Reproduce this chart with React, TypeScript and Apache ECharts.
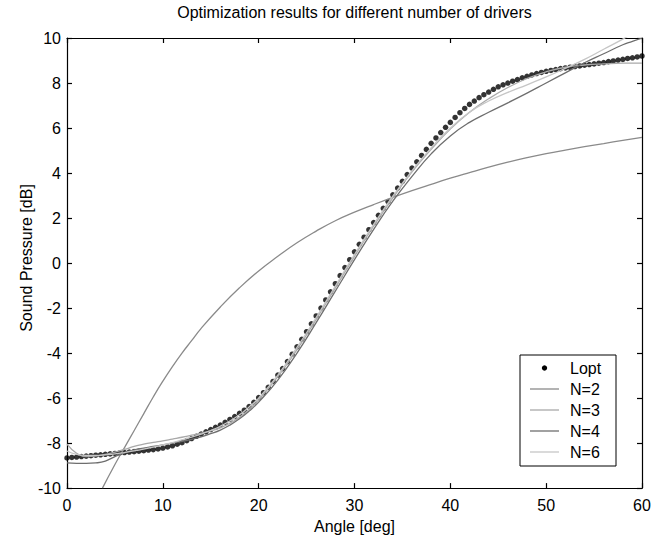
import React, { useEffect, useRef } from "react";
import * as echarts from "echarts";

const FONT = "'Liberation Sans', Arial, Helvetica, sans-serif";

const xTicks = [0, 10, 20, 30, 40, 50, 60];
const yTicks = [-10, -8, -6, -4, -2, 0, 2, 4, 6, 8, 10];

// Lopt (dots)
const loptAngle = [
  0, 0.5, 1, 1.5, 2, 2.5, 3, 3.5, 4, 4.5, 5, 5.5, 6, 6.5, 7, 7.5, 8, 8.5, 9, 9.5,
  10, 10.5, 11, 11.5, 12, 12.5, 13, 13.5, 14, 14.5, 15, 15.5, 16, 16.5, 17, 17.5, 18, 18.5, 19, 19.5,
  20, 20.5, 21, 21.5, 22, 22.5, 23, 23.5, 24, 24.5, 25, 25.5, 26, 26.5, 27, 27.5, 28, 28.5, 29, 29.5,
  30, 30.5, 31, 31.5, 32, 32.5, 33, 33.5, 34, 34.5, 35, 35.5, 36, 36.5, 37, 37.5, 38, 38.5, 39, 39.5,
  40, 40.5, 41, 41.5, 42, 42.5, 43, 43.5, 44, 44.5, 45, 45.5, 46, 46.5, 47, 47.5, 48, 48.5, 49, 49.5,
  50, 50.5, 51, 51.5, 52, 52.5, 53, 53.5, 54, 54.5, 55, 55.5, 56, 56.5, 57, 57.5, 58, 58.5, 59, 59.5, 60,
];
const loptValue = [
  -8.66, -8.64, -8.62, -8.6, -8.58, -8.56, -8.54, -8.52, -8.5, -8.48, -8.46, -8.44, -8.42, -8.4, -8.38, -8.36, -8.34, -8.31, -8.29, -8.26,
  -8.22, -8.17, -8.12, -8.05, -7.98, -7.89, -7.8, -7.7, -7.6, -7.5, -7.4, -7.3, -7.2, -7.08, -6.95, -6.82, -6.68, -6.54, -6.38, -6.19,
  -5.98, -5.76, -5.52, -5.26, -4.98, -4.69, -4.38, -4.05, -3.72, -3.39, -3.05, -2.7, -2.35, -2.0, -1.64, -1.28, -0.92, -0.56, -0.2, 0.15,
  0.5, 0.83, 1.15, 1.48, 1.8, 2.12, 2.43, 2.73, 3.03, 3.33, 3.63, 3.93, 4.22, 4.5, 4.78, 5.05, 5.32, 5.56, 5.8, 6.03,
  6.25, 6.47, 6.68, 6.87, 7.05, 7.2, 7.35, 7.48, 7.6, 7.72, 7.83, 7.92, 8.0, 8.08, 8.15, 8.23, 8.3, 8.36, 8.42, 8.47,
  8.52, 8.56, 8.6, 8.64, 8.67, 8.7, 8.73, 8.76, 8.79, 8.82, 8.85, 8.88, 8.91, 8.95, 8.98, 9.02, 9.05, 9.09, 9.12, 9.16, 9.2,
];

// N=2
const n2Angle = [3.7, 5, 6, 7, 8, 9, 10, 11, 12, 13, 14, 16, 18, 20, 22, 24, 26, 28, 30, 32, 34, 36, 38, 40, 42, 44, 46, 48, 50, 52, 54, 56, 58, 60];
const n2Value = [-10, -8.95, -8.2, -7.45, -6.7, -5.95, -5.25, -4.6, -4.0, -3.45, -2.9, -1.95, -1.1, -0.35, 0.3, 0.9, 1.42, 1.88, 2.26, 2.6, 2.92, 3.22, 3.5, 3.77, 4.02, 4.26, 4.48, 4.68, 4.86, 5.02, 5.17, 5.31, 5.45, 5.58];

// shared angles for N=3, N=4, N=6
const nAngle = [0, 1, 2, 3, 4, 5, 6, 7, 8, 9, 10, 11, 12, 13, 14, 15, 16, 17, 18, 19, 20, 22, 24, 26, 28, 30, 32, 34, 36, 38, 40, 42, 44, 46, 48, 50, 52, 54, 56, 58, 59, 60];
const n3Value = [-8.05, -8.45, -8.6, -8.58, -8.5, -8.4, -8.28, -8.15, -8.05, -7.97, -7.9, -7.82, -7.74, -7.65, -7.56, -7.46, -7.32, -7.12, -6.85, -6.5, -6.08, -5.05, -3.85, -2.5, -1.1, 0.3, 1.65, 2.9, 4.05, 5.05, 5.95, 6.7, 7.3, 7.8, 8.2, 8.5, 8.7, 8.8, 8.85, 8.88, 8.88, 8.88];
const n4Value = [-8.88, -8.9, -8.9, -8.88, -8.8, -8.6, -8.42, -8.3, -8.22, -8.15, -8.08, -8.0, -7.92, -7.83, -7.72, -7.58, -7.42, -7.2, -6.92, -6.58, -6.18, -5.2, -4.0, -2.65, -1.25, 0.15, 1.5, 2.75, 3.85, 4.85, 5.65, 6.25, 6.7, 7.12, 7.55, 8.0, 8.45, 8.9, 9.3, 9.7, 9.85, 10.0];
const n6Value = [-8.35, -8.5, -8.55, -8.55, -8.52, -8.48, -8.42, -8.35, -8.27, -8.18, -8.08, -7.98, -7.86, -7.74, -7.6, -7.44, -7.25, -7.02, -6.74, -6.4, -6.0, -4.98, -3.75, -2.42, -1.02, 0.38, 1.72, 2.97, 4.1, 5.12, 6.0, 6.7, 7.2, 7.58, 7.92, 8.27, 8.65, 9.05, 9.5, 9.95, 10.2, 10.45];

const legendNames = ["Lopt", "N=2", "N=3", "N=4", "N=6"];
const lineColors = { "N=2": "#8a8a8a", "N=3": "#a9a9a9", "N=4": "#6e6e6e", "N=6": "#c6c6c6" };

const zip = (xs: number[], ys: number[]) => xs.map((x, i) => [x, ys[i]]);

export default function App() {
  const ref = useRef<HTMLDivElement>(null);
  useEffect(() => {
    if (!ref.current) return;
    const chart = echarts.init(ref.current, null, { renderer: "svg" });
    const gridL = 67, gridR = 642, gridT = 38, gridB = 491;

    const axisCommon = {
      type: "value",
      axisLine: { show: true, onZero: false, lineStyle: { color: "#000", width: 1.2 } },
      axisTick: { show: true, inside: true, length: 5, lineStyle: { color: "#000", width: 1.2 } },
      splitLine: { show: false },
    };

    const lineSeries = (name: string, xs: number[], ys: number[]) => ({
      name,
      type: "line",
      data: zip(xs, ys),
      symbol: "none",
      smooth: true,
      clip: true,
      lineStyle: { color: (lineColors as any)[name], width: 1.3 },
      xAxisIndex: 0,
      yAxisIndex: 0,
    });

    // legend via graphic
    const legX = 520, legY = 355, legW = 96, legH = 111;
    const rowY = [368, 389, 410, 431, 452];
    const legendEls: any[] = [
      { type: "rect", shape: { x: legX, y: legY, width: legW, height: legH }, style: { fill: "#fff", stroke: "#000", lineWidth: 1 }, z: 100 },
      { type: "circle", shape: { cx: 544.5, cy: rowY[0], r: 2.7 }, style: { fill: "#000" }, z: 101 },
    ];
    legendNames.forEach((nm, i) => {
      if (i > 0) {
        legendEls.push({
          type: "line",
          shape: { x1: 530, y1: rowY[i], x2: 559, y2: rowY[i] },
          style: { stroke: (lineColors as any)[nm], lineWidth: 1.3 },
          z: 101,
        });
      }
      legendEls.push({
        type: "text",
        x: 570,
        y: rowY[i],
        style: { text: nm, font: `16px ${FONT}`, fill: "#000", align: "left", verticalAlign: "middle", textAlign: "left", textVerticalAlign: "middle" },
        z: 101,
      });
    });

    const option: any = {
      animation: false,
      backgroundColor: "#fff",
      textStyle: { fontFamily: FONT },
      grid: { left: gridL, top: gridT, width: gridR - gridL, height: gridB - gridT, containLabel: false },
      xAxis: [
        {
          ...axisCommon,
          position: "bottom",
          min: 0,
          max: 60,
          interval: 10,
          axisLabel: { show: true, color: "#000", fontSize: 16, fontFamily: FONT, margin: 9, formatter: (v: number) => (xTicks.includes(v) ? String(v) : "") },
          name: "Angle [deg]",
          nameLocation: "middle",
          nameGap: 28,
          nameTextStyle: { color: "#000", fontSize: 16, fontFamily: FONT },
        },
        {
          ...axisCommon,
          position: "top",
          min: 0,
          max: 60,
          interval: 10,
          axisLabel: { show: false },
        },
      ],
      yAxis: [
        {
          ...axisCommon,
          position: "left",
          min: -10,
          max: 10,
          interval: 2,
          axisLabel: { show: true, color: "#000", fontSize: 16, fontFamily: FONT, margin: 6, formatter: (v: number) => (yTicks.includes(v) ? String(v) : "") },
        },
        {
          ...axisCommon,
          position: "right",
          min: -10,
          max: 10,
          interval: 2,
          axisLabel: { show: false },
        },
      ],
      graphic: [
        {
          type: "text",
          x: 354.5,
          y: 4,
          style: {
            text: "Optimization results for different number of drivers",
            font: `16px ${FONT}`,
            fill: "#000",
            align: "center",
            verticalAlign: "top",
            textAlign: "center",
            textVerticalAlign: "top",
          },
        },
        {
          type: "text",
          x: 26,
          y: 258,
          rotation: Math.PI / 2,
          style: {
            text: "Sound Pressure [dB]",
            font: `16px ${FONT}`,
            fill: "#000",
            align: "center",
            verticalAlign: "middle",
            textAlign: "center",
            textVerticalAlign: "middle",
          },
        },
        ...legendEls,
      ],
      series: [
        {
          name: "Lopt",
          type: "scatter",
          data: zip(loptAngle, loptValue),
          symbol: "circle",
          symbolSize: 5.5,
          itemStyle: { color: "#000" },
          xAxisIndex: 0,
          yAxisIndex: 0,
        },
        lineSeries("N=2", n2Angle, n2Value),
        lineSeries("N=3", nAngle, n3Value),
        lineSeries("N=4", nAngle, n4Value),
        lineSeries("N=6", nAngle, n6Value),
      ],
    };
    chart.setOption(option);
    return () => chart.dispose();
  }, []);

  return <div ref={ref} style={{ position: "fixed", left: 0, top: 0, width: 659, height: 539, background: "#fff" }} />;
}
